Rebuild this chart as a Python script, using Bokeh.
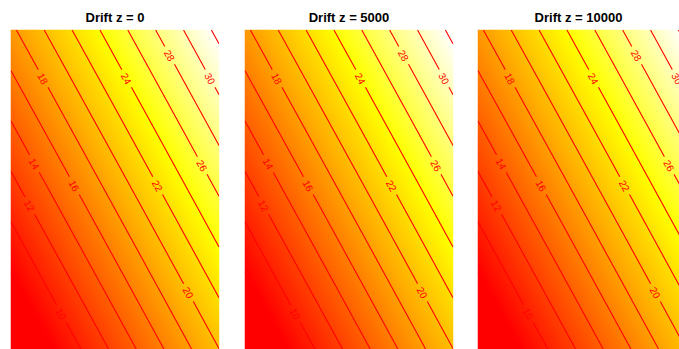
import numpy as np
import contourpy
from bokeh.plotting import figure
from bokeh.layouts import row
from bokeh.models import LinearColorMapper, Range1d
from bokeh.core.properties import value
from bokeh.embed import file_html
from bokeh.resources import INLINE

# --- data -------------------------------------------------------------
drift_z = [0, 5000, 10000]
titles = [f"Drift z = {d}" for d in drift_z]

# surface values at the four corners of the domain (unit square)
corner_bottom_left = [4.9, 4.9, 4.9]
corner_bottom_right = [20.0, 20.0, 20.0]
corner_top_left = [17.6, 17.6, 17.6]
corner_top_right = [32.6, 32.6, 32.6]

contour_levels = [8, 10, 12, 14, 16, 18, 20, 22, 24, 26, 28, 30, 32]
labelled_levels = [8, 10, 12, 14, 16, 18, 20, 22, 24, 26, 28, 30]
# height (fraction of the domain) at which each level gets its label
label_heights = [0.169, 0.112, 0.45, 0.581, 0.512, 0.847, 0.178, 0.512, 0.847, 0.575, 0.919, 0.847]

# colour scale limits: red at the bottom, yellow two thirds up, white at the top
color_low, color_high = 8.0, 32.0

# --- layout -----------------------------------------------------------
FRAME_W, FRAME_H = 209, 320
NX, NY = 209, 320
panel_widths = [209, 209, 202]      # last panel is trimmed at the window edge
border_left = [10, 10, 10]
border_right = [15, 14, 0]


def heat_palette(n):
    """Red -> yellow over the first two thirds, then yellow -> near white."""
    j = n // 3
    i = n - j
    cols = []
    for t in np.linspace(0, 1, i):
        cols.append("#%02x%02x%02x" % (255, int(round(255 * t)), 0))
    for t in np.linspace(1 / j, 0.97, j):
        cols.append("#%02x%02x%02x" % (255, 255, int(round(255 * t))))
    return cols


PALETTE = heat_palette(256)


def split_around(px, py, s0, half):
    seg = np.hypot(np.diff(px), np.diff(py))
    s = np.concatenate([[0.0], np.cumsum(seg)])
    a, b = s0 - half, s0 + half
    pieces = []
    m = s < a
    if m.any():
        pieces.append((np.concatenate([px[m], [np.interp(a, s, px)]]),
                       np.concatenate([py[m], [np.interp(a, s, py)]])))
    m = s > b
    if m.any():
        pieces.append((np.concatenate([[np.interp(b, s, px)], px[m]]),
                       np.concatenate([[np.interp(b, s, py)], py[m]])))
    return pieces


def make_panel(k):
    xc = (np.arange(NX) + 0.5) / NX
    yc = (np.arange(NY) + 0.5) / NY
    X, Y = np.meshgrid(xc, yc)
    Z = (corner_bottom_left[k] * (1 - X) * (1 - Y) + corner_bottom_right[k] * X * (1 - Y)
         + corner_top_left[k] * (1 - X) * Y + corner_top_right[k] * X * Y)

    w = panel_widths[k]
    p = figure(width=border_left[k] + w + border_right[k], height=FRAME_H + 29,
               frame_width=w, frame_height=FRAME_H,
               x_range=Range1d(0, w / FRAME_W), y_range=Range1d(0, 1),
               output_backend="svg", toolbar_location=None,
               x_axis_location=None, y_axis_location=None,
               min_border_left=border_left[k], min_border_right=border_right[k],
               min_border_top=29, min_border_bottom=0)
    p.grid.visible = False
    p.outline_line_color = None
    p.background_fill_color = "white"
    p.border_fill_color = "white"

    p.title.text = titles[k]
    p.title.align = "center"
    p.title.text_font = "Liberation Sans"
    p.title.text_font_style = "bold"
    p.title.text_font_size = "13px"
    p.title.text_color = "#000000"

    mapper = LinearColorMapper(palette=PALETTE, low=color_low, high=color_high)
    p.image(image=[Z], x=0, y=0, dw=1, dh=1, color_mapper=mapper)

    gen = contourpy.contour_generator(X, Y, Z, line_type="Separate")
    line_xs, line_ys = [], []
    tx, ty, tt, ta = [], [], [], []
    for lev in contour_levels:
        for seg in gen.lines(lev):
            px = seg[:, 0] * FRAME_W
            py = seg[:, 1] * FRAME_H
            if lev in labelled_levels:
                target = label_heights[labelled_levels.index(lev)] * FRAME_H
                seglen = np.hypot(np.diff(px), np.diff(py))
                s = np.concatenate([[0.0], np.cumsum(seglen)])
                hit = None
                for i in range(len(py) - 1):
                    if (py[i] - target) * (py[i + 1] - target) <= 0 and py[i] != py[i + 1]:
                        f = (target - py[i]) / (py[i + 1] - py[i])
                        hit = (i, f)
                        break
                if hit is not None:
                    i, f = hit
                    s0 = s[i] + f * seglen[i]
                    lx = px[i] + f * (px[i + 1] - px[i])
                    dx, dy = px[i + 1] - px[i], py[i + 1] - py[i]
                    if dx < 0:
                        dx, dy = -dx, -dy
                    txt = str(lev)
                    half = (len(txt) * 5.6 + 9) / 2
                    for qx, qy in split_around(px, py, s0, half):
                        line_xs.append(qx / FRAME_W)
                        line_ys.append(qy / FRAME_H)
                    tx.append(lx / FRAME_W)
                    ty.append(target / FRAME_H)
                    tt.append(txt)
                    ta.append(float(np.arctan2(dy, dx)))
                    continue
            line_xs.append(px / FRAME_W)
            line_ys.append(py / FRAME_H)

    p.multi_line(line_xs, line_ys, line_color="#ff0000", line_width=1.1)
    p.text(x=tx, y=ty, text=tt, angle=ta, text_color="#ff0000",
           text_font=value("Liberation Sans"), text_font_size="10px",
           text_align="center", text_baseline="middle")
    return p


layout = row([make_panel(k) for k in range(3)], spacing=0)
open("out.html", "w").write(file_html(layout, INLINE))
